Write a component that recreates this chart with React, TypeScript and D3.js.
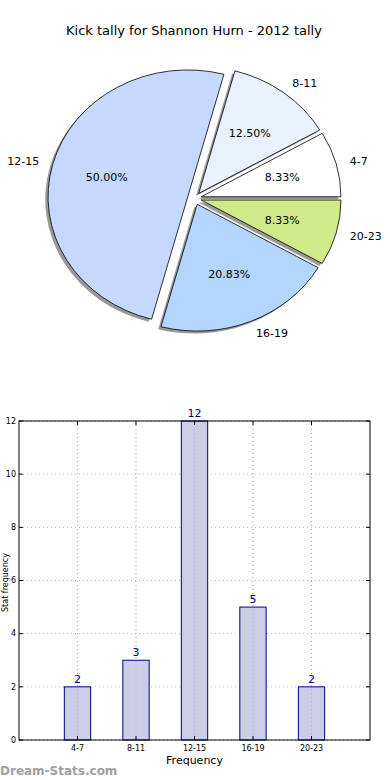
import React from "react";
import * as d3 from "d3";

const categories = ["4-7", "8-11", "12-15", "16-19", "20-23"];
const counts = [2, 3, 12, 5, 2];
const sliceColors = ["#ffffff", "#eaf1fe", "#c5d9fe", "#b3d5fe", "#d0ea8a"];
const yTicks = [0, 2, 4, 6, 8, 10, 12];

const W = 390;
const H = 780;
const font = "DejaVu Sans, sans-serif";

// pie geometry (matplotlib-like: ellipse because axis not equal)
const cx = 194.5;
const cy = 198.4;
const rx = 139.7;
const ry = 126.8;
const explode = 0.05;

function PieChart() {
  const pie = d3.pie<number>().sort(null).startAngle(0).endAngle(2 * Math.PI);
  const arcs = pie(counts);
  const total = d3.sum(counts);
  const arc = d3.arc<any>().innerRadius(0).outerRadius(1);

  const slices = arcs.map((a, i) => {
    // matplotlib angles: counter-clockwise from east
    const t0 = a.startAngle;
    const t1 = a.endAngle;
    const mid = (t0 + t1) / 2;
    const d = arc({ startAngle: Math.PI / 2 - t1, endAngle: Math.PI / 2 - t0 })!;
    const ox = explode * rx * Math.cos(mid);
    const oy = -explode * ry * Math.sin(mid);
    return { d, mid, ox, oy, i };
  });

  return (
    <g>
      {slices.map((s) => (
        <path
          key={"sh" + s.i}
          d={s.d}
          transform={`translate(${cx + s.ox - 0.02 * rx},${cy + s.oy + 0.02 * ry}) scale(${rx},${ry})`}
          fill="#000"
          fillOpacity={0.4}
          stroke="none"
        />
      ))}
      {slices.map((s) => (
        <path
          key={"w" + s.i}
          d={s.d}
          transform={`translate(${cx + s.ox},${cy + s.oy}) scale(${rx},${ry})`}
          fill={sliceColors[s.i]}
          stroke="#000"
          strokeWidth={0.8}
          vectorEffect="non-scaling-stroke"
        />
      ))}
      {slices.map((s) => {
        const c = Math.cos(s.mid);
        const sn = Math.sin(s.mid);
        const lx = cx + (explode + 1.1) * rx * c;
        const ly = cy - (explode + 1.1) * ry * sn;
        const px = cx + (explode + 0.6) * rx * c;
        const py = cy - (explode + 0.6) * ry * sn;
        return (
          <g key={"l" + s.i} fontFamily={font} fontSize={11} fill="#000">
            <text x={lx} y={ly} dy="0.35em" textAnchor={c >= 0 ? "start" : "end"}>
              {categories[s.i]}
            </text>
            <text x={px} y={py} dy="0.35em" textAnchor="middle">
              {((counts[s.i] / total) * 100).toFixed(2) + "%"}
            </text>
          </g>
        );
      })}
    </g>
  );
}

function BarChart() {
  const left = 19;
  const right = 370;
  const top = 421;
  const bottom = 740;
  const x = d3.scaleLinear().domain([0, categories.length + 1]).range([left, right]);
  const y = d3.scaleLinear().domain([0, 12]).range([bottom, top]);
  const barW = x(0.45) - x(0);
  const xTicks = categories.map((_, i) => i + 1);

  return (
    <g fontFamily={font}>
      {/* grid */}
      {yTicks.map((t) => (
        <line key={"gy" + t} x1={left} x2={right} y1={y(t)} y2={y(t)} stroke="#b8b8b8" strokeDasharray="1,3" />
      ))}
      {xTicks.map((t) => (
        <line key={"gx" + t} x1={x(t)} x2={x(t)} y1={top} y2={bottom} stroke="#b8b8b8" strokeDasharray="1,3" />
      ))}
      {/* bars */}
      {counts.map((v, i) => (
        <g key={"b" + i}>
          <rect
            x={x(i + 1) - barW / 2}
            y={y(v)}
            width={barW}
            height={y(0) - y(v)}
            fill="#ccceE6"
            stroke="#000080"
            strokeWidth={1}
          />
          <text x={x(i + 1)} y={y(v) - 4} textAnchor="middle" fontSize={11} fill="#000080">
            {v}
          </text>
        </g>
      ))}
      {/* grid drawn over bars as in the reference */}
      {xTicks.map((t) => (
        <line key={"gx2" + t} x1={x(t)} x2={x(t)} y1={top} y2={bottom} stroke="#a0a0b8" strokeDasharray="1,3" strokeOpacity={0.6} />
      ))}
      {/* frame */}
      <rect x={left} y={top} width={right - left} height={bottom - top} fill="none" stroke="#000" strokeWidth={1} />
      {/* y ticks */}
      {yTicks.map((t) => (
        <g key={"yt" + t}>
          <line x1={left} x2={left + 4} y1={y(t)} y2={y(t)} stroke="#000" />
          <line x1={right - 4} x2={right} y1={y(t)} y2={y(t)} stroke="#000" />
          <text x={left - 3} y={y(t)} dy="0.35em" textAnchor="end" fontSize={8} fill="#000">
            {t}
          </text>
        </g>
      ))}
      {/* x ticks */}
      {xTicks.map((t, i) => (
        <g key={"xt" + t}>
          <line x1={x(t)} x2={x(t)} y1={bottom} y2={bottom - 4} stroke="#000" />
          <line x1={x(t)} x2={x(t)} y1={top} y2={top + 4} stroke="#000" />
          <text x={x(t)} y={bottom + 11} textAnchor="middle" fontSize={8} fill="#000">
            {categories[i]}
          </text>
        </g>
      ))}
      <text x={(left + right) / 2} y={bottom + 24} textAnchor="middle" fontSize={11} fill="#000">
        Frequency
      </text>
      <text
        transform={`translate(8,${(top + bottom) / 2 + 2}) rotate(-90)`}
        textAnchor="middle"
        fontSize={8}
        fill="#000"
      >
        Stat frequency
      </text>
    </g>
  );
}

export default function App() {
  return (
    <svg
      width={W}
      height={H}
      viewBox={`0 0 ${W} ${H}`}
      style={{ position: "absolute", left: 0, top: 0, background: "#fff" }}
    >
      <rect width={W} height={H} fill="#fff" />
      <text x={194} y={35} textAnchor="middle" fontFamily={font} fontSize={13} fill="#000">
        Kick tally for Shannon Hurn - 2012 tally
      </text>
      <PieChart />
      <BarChart />
      <text x={0} y={775} fontFamily={font} fontSize={12} fontWeight={600} fill="#a0a0a0">
        Dream-Stats.com
      </text>
    </svg>
  );
}
